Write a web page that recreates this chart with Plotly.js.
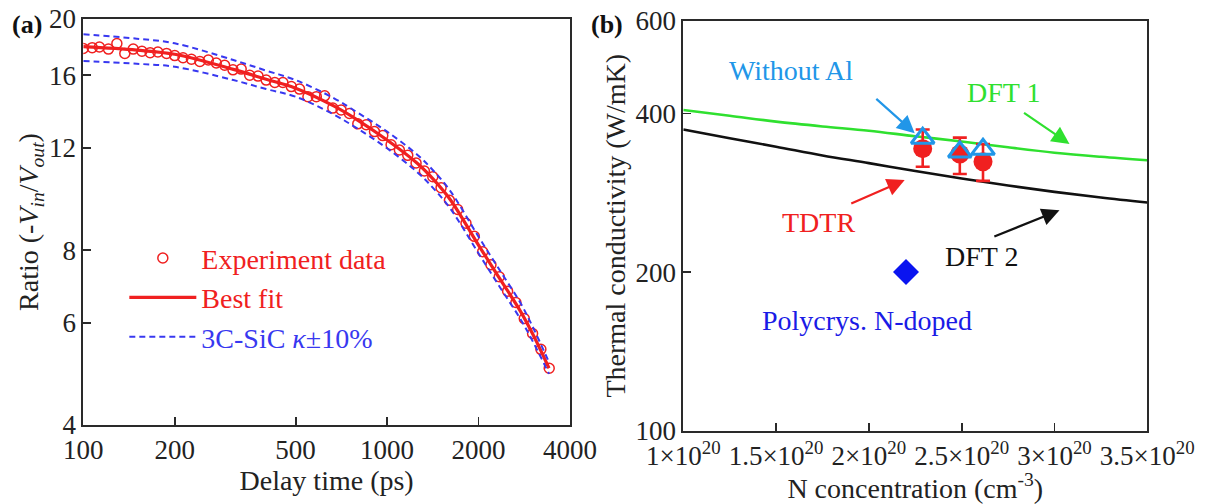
<!DOCTYPE html>
<html><head><meta charset="utf-8">
<script src="https://cdn.plot.ly/plotly-3.0.1.min.js"></script>
<style>html,body{margin:0;padding:0;background:#fff}</style>
</head><body><div id="chart" style="width:1207px;height:504px"></div>
<script>
// ---- panel (a) data ----
const delayTime = [100,107,113,121,129,137,146,156,166,176,188,200,213,227,242,258,274,292,311,331,353,376,400,427,454,484,515,549,585,623,663,706,752,801,854,909,968,1031,1098,1170,1246,1327,1414,1506,1604,1708,1819,1938,2064,2198,2341,2494,2656,2829,3013,3209,3418];
const ratioExp = [17.80,17.85,17.90,17.75,18.15,17.45,17.75,17.60,17.50,17.55,17.45,17.30,17.15,17.05,16.90,17.00,16.80,16.65,16.35,16.40,16.00,15.95,15.70,15.55,15.55,15.30,15.15,14.70,14.70,14.75,14.05,13.95,13.75,13.20,13.15,12.80,12.60,12.15,11.90,11.65,11.30,10.95,10.70,10.25,9.75,9.40,8.90,8.45,7.95,7.55,7.20,6.80,6.50,6.10,5.75,5.40,5.01];
const fitTime = [100,150,200,312,400,500,667,800,1000,1257,1426,1618,2000,2364,2753,3046,3413];
const fitRatio = [17.92,17.68,17.39,16.38,15.75,15.20,14.17,13.40,12.38,11.29,10.57,9.76,8.16,7.11,6.27,5.68,5.01];
const upperRatio = [18.82,18.50,18.16,17.00,16.30,15.70,14.62,13.80,12.80,11.68,10.94,10.10,8.44,7.35,6.48,5.84,5.13];
const lowerRatio = [16.93,16.75,16.55,15.70,15.15,14.70,13.70,12.95,11.98,10.90,10.20,9.42,7.90,6.88,6.08,5.52,4.90];
const xTicksA = [100,200,500,1000,2000,4000];
const yTicksA = [4,6,8,12,16,20];

// ---- panel (b) data ----
const nConc = [1e20,1.25e20,1.5e20,1.75e20,2e20,2.25e20,2.5e20,2.75e20,3e20,3.25e20,3.5e20];
const dft1 = [406,396,386,378,371,362,354,345,337,331,326];
const dft2 = [373,359,346,333,322,311,301,292,284,277,271];
const tdtrN = [2.29e20,2.49e20,2.615e20];
const tdtrK = [343,335,324];
const tdtrErrPlus = [30,25,26];
const tdtrErrMinus = [26,28,26];
const noAlN = [2.29e20,2.49e20,2.615e20];
const noAlK = [359,338,342];
const polyN = [2.2e20];
const polyK = [200];
const xTicksB = [1e20,1.5e20,2e20,2.5e20,3e20,3.5e20];
const xTickTextB = ['1×10<sup>20</sup>','1.5×10<sup>20</sup>','2×10<sup>20</sup>','2.5×10<sup>20</sup>','3×10<sup>20</sup>','3.5×10<sup>20</sup>'];
const yTicksB = [100,200,400,600];

const FONT = 'Liberation Serif';
const RED = '#f02020', BLUE = '#3838f0', LBLUE = '#2196e8', GREEN = '#2fe02f';

const traces = [
  {x: delayTime, y: ratioExp, type:'scatter', mode:'markers', xaxis:'x', yaxis:'y',
   name:'<span style="color:'+RED+'">Experiment data</span>',
   marker:{symbol:'circle-open', size:10, color:RED, line:{width:1.5, color:RED}}},
  {x: fitTime, y: fitRatio, type:'scatter', mode:'lines', xaxis:'x', yaxis:'y',
   name:'<span style="color:'+RED+'">Best fit</span>',
   line:{color:RED, width:3.2, shape:'spline'}},
  {x: fitTime, y: upperRatio, type:'scatter', mode:'lines', xaxis:'x', yaxis:'y',
   legendgroup:'pm', name:'<span style="color:'+BLUE+'">3C-SiC <i>κ</i>±10%</span>',
   line:{color:BLUE, width:2, dash:'6px,4px', shape:'spline'}},
  {x: fitTime, y: lowerRatio, type:'scatter', mode:'lines', xaxis:'x', yaxis:'y',
   legendgroup:'pm', showlegend:false,
   line:{color:BLUE, width:2, dash:'6px,4px', shape:'spline'}},
  {x: nConc, y: dft1, type:'scatter', mode:'lines', xaxis:'x2', yaxis:'y2', showlegend:false,
   line:{color:GREEN, width:2.6, shape:'spline'}},
  {x: nConc, y: dft2, type:'scatter', mode:'lines', xaxis:'x2', yaxis:'y2', showlegend:false,
   line:{color:'#111', width:2.6, shape:'spline'}},
  {x: tdtrN, y: tdtrK, type:'scatter', mode:'markers', xaxis:'x2', yaxis:'y2', showlegend:false,
   marker:{symbol:'circle', size:19, color:RED},
   error_y:{type:'data', symmetric:false, array:tdtrErrPlus, arrayminus:tdtrErrMinus, color:RED, thickness:2.6, width:7}},
  {x: noAlN, y: noAlK, type:'scatter', mode:'markers', xaxis:'x2', yaxis:'y2', showlegend:false,
   marker:{symbol:'triangle-up-open', size:20, color:LBLUE, line:{width:3, color:LBLUE}}},
  {x: polyN, y: polyK, type:'scatter', mode:'markers', xaxis:'x2', yaxis:'y2', showlegend:false,
   marker:{symbol:'diamond', size:20, color:'#0a14f0'}}
];

const axBase = {showline:true, mirror:true, linecolor:'#2a2a2a', linewidth:2, ticks:'inside',
  ticklen:8, tickwidth:1.8, tickcolor:'#2a2a2a', showgrid:false, zeroline:false,
  tickfont:{family:FONT, size:27, color:'#222'}};

function ax(extra){ return Object.assign(JSON.parse(JSON.stringify(axBase)), extra); }
const TF = {family:FONT, size:28, color:'#222'};

const L10 = Math.log10;
function arrow(x0,y0,x1,y1,color){
  return {xref:'x2', yref:'y2', axref:'x2', ayref:'y2', x:x1, y:L10(y1), ax:x0, ay:L10(y0),
    text:'', showarrow:true, arrowhead:2, arrowsize:1.6, arrowwidth:2.2, arrowcolor:color, standoff:0, startstandoff:0};
}
function label(x,y,txt,color){
  return {xref:'x2', yref:'y2', x:x, y:L10(y), text:txt, showarrow:false,
    font:{family:FONT, size:28, color:color}, xanchor:'center', yanchor:'middle'};
}

const layout = {
  width:1207, height:504, margin:{l:0,r:0,t:0,b:0}, paper_bgcolor:'#fff', plot_bgcolor:'#fff',
  showlegend:true,
  legend:{x:0.103, y:0.537, xanchor:'left', yanchor:'top', bgcolor:'rgba(0,0,0,0)', borderwidth:0,
    font:{family:FONT, size:28}, itemwidth:67, tracegroupgap:0},
  xaxis: ax({domain:[0.0690,0.4722], anchor:'y', type:'log', range:[2, L10(4000)],
    tickvals:xTicksA, ticktext:xTicksA.map(String), title:{text:'Delay time (ps)', standoff:4, font:TF}}),
  yaxis: ax({domain:[0.1567,0.9623], anchor:'x', type:'log', range:[L10(4), L10(20)],
    tickvals:yTicksA, ticktext:yTicksA.map(String),
    title:{text:'Ratio (-<i>V</i><sub><i>in</i></sub>/<i>V</i><sub><i>out</i></sub>)', standoff:2, font:TF}}),
  xaxis2: ax({domain:[0.5661,0.9505], anchor:'y2', type:'linear', range:[1e20,3.5e20],
    tickvals:xTicksB, ticktext:xTickTextB,
    title:{text:'N concentration (cm<sup>-3</sup>)', standoff:2, font:TF}}),
  yaxis2: ax({domain:[0.1455,0.9589], anchor:'x2', type:'log', range:[2, L10(600)],
    tickvals:yTicksB, ticktext:yTicksB.map(String),
    title:{text:'Thermal conductivity (W/mK)', standoff:2, font:TF}}),
  annotations:[
    {xref:'paper', yref:'paper', x:27/1207, y:1-24/504, text:'<b>(a)</b>', showarrow:false,
     font:{family:FONT, size:26, color:'#111'}, xanchor:'center', yanchor:'middle'},
    {xref:'paper', yref:'paper', x:607/1207, y:1-24/504, text:'<b>(b)</b>', showarrow:false,
     font:{family:FONT, size:26, color:'#111'}, xanchor:'center', yanchor:'middle'},
    label(1.583e20, 482, 'Without Al', LBLUE),
    arrow(2.032e20, 429, 2.247e20, 367, LBLUE),
    label(2.726e20, 439, 'DFT 1', GREEN),
    arrow(2.828e20, 403, 3.081e20, 350, GREEN),
    label(1.730e20, 248, 'TDTR', RED),
    arrow(1.897e20, 269, 2.193e20, 299, RED),
    label(2.608e20, 214, 'DFT 2', '#111'),
    arrow(2.668e20, 233, 3.027e20, 262, '#111'),
    label(1.991e20, 162, 'Polycrys. N-doped', '#1a1ae6')
  ]
};

Plotly.newPlot('chart', traces, layout, {displayModeBar:false, staticPlot:true});
</script></body></html>
